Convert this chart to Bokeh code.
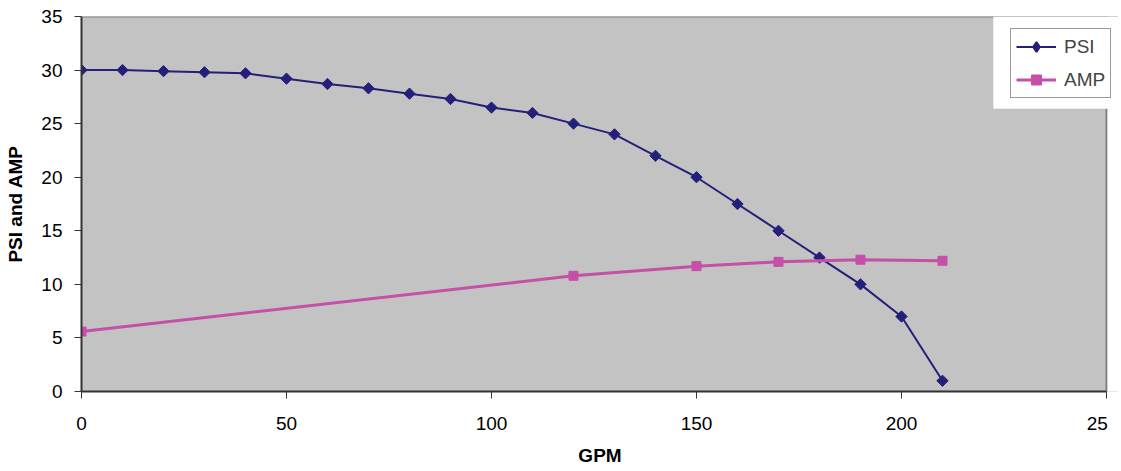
import math
from bokeh.plotting import figure
from bokeh.models import Range1d, FixedTicker, Legend, LegendItem, BoxAnnotation, Span
from bokeh.embed import file_html
from bokeh.resources import INLINE

gpm_psi = [0, 10, 20, 30, 40, 50, 60, 70, 80, 90, 100, 110, 120, 130, 140, 150, 160, 170, 180, 190, 200, 210]
psi = [30, 30, 29.9, 29.8, 29.7, 29.2, 28.7, 28.3, 27.8, 27.3, 26.5, 26.0, 25.0, 24.0, 22.0, 20.0, 17.5, 15.0, 12.5, 10.0, 7.0, 1.0]
gpm_amp = [0, 120, 150, 170, 190, 210]
amp = [5.6, 10.8, 11.7, 12.1, 12.3, 12.2]
x_ticks = [0, 50, 100, 150, 200, 250]
x_tick_labels = ["0", "50", "100", "150", "200", "25\u2007"]
y_ticks = [0, 5, 10, 15, 20, 25, 30, 35]

FONT = "Liberation Sans"
NAVY = "#24207a"
PINK = "#c64fa8"
BG = "#c3c3c3"

X_MAX = 250
p = figure(width=1118, height=470, output_backend="svg", toolbar_location=None,
           x_range=Range1d(0, 252.93), y_range=Range1d(0, 35),
           min_border_left=81, min_border_right=0, min_border_top=16, min_border_bottom=79)
p.background_fill_color = BG
p.border_fill_color = "white"
p.outline_line_color = None
p.grid.visible = False

# plot-area borders (top and right), grey
p.add_layout(Span(location=35, dimension="width", line_color="#808080", line_width=2))
p.segment(x0=[X_MAX], y0=[0], x1=[X_MAX], y1=[35], line_color="#808080", line_width=2)

r_psi_l = p.line(gpm_psi, psi, line_color=NAVY, line_width=2)
r_psi_m = p.scatter(gpm_psi, psi, marker="square", angle=math.pi / 4, size=8,
                    fill_color=NAVY, line_color=NAVY)
r_amp_l = p.line(gpm_amp, amp, line_color=PINK, line_width=3)
r_amp_m = p.scatter(gpm_amp, amp, marker="square", size=9, fill_color=PINK, line_color=PINK)

# legend-only diamond symbol (legend glyphs ignore marker angle); hidden on the plot
r_psi_leg = p.scatter(gpm_psi, psi, marker="diamond", fill_color=NAVY, line_color=NAVY,
                      line_width=2, visible=False)

# white area behind the legend, and the blank strip right of the plot area
p.add_layout(BoxAnnotation(left=222.4, bottom=26.4, fill_color="white", fill_alpha=1.0, line_color=None))
p.add_layout(BoxAnnotation(left=X_MAX + 0.25, fill_color="white", fill_alpha=1.0, line_color=None))

for ax in (p.xaxis[0], p.yaxis[0]):
    ax.axis_line_color = "#333333"
    ax.axis_line_width = 2
    ax.major_tick_line_color = "#333333"
    ax.major_tick_out = 7
    ax.major_tick_in = 0
    ax.minor_tick_out = 0
    ax.minor_tick_in = 0
    ax.major_label_text_font = FONT
    ax.major_label_text_font_size = "19px"
    ax.major_label_text_color = "black"
    ax.axis_label_text_font = FONT
    ax.axis_label_text_font_size = "19px"
    ax.axis_label_text_font_style = "bold"
    ax.axis_label_text_color = "black"

p.xaxis.bounds = (0, X_MAX)
p.xaxis.ticker = FixedTicker(ticks=x_ticks)
p.xaxis.major_label_overrides = {t: l for t, l in zip(x_ticks, x_tick_labels)}
p.xaxis.axis_label = "GPM"
p.xaxis.major_label_standoff = 14
p.xaxis.axis_label_standoff = 8
p.yaxis.ticker = FixedTicker(ticks=y_ticks)
p.yaxis.axis_label = "PSI and AMP"
p.yaxis.major_label_standoff = 12
p.yaxis.axis_label_standoff = 12

legend = Legend(items=[LegendItem(label="PSI", renderers=[r_psi_l, r_psi_leg]),
                       LegendItem(label="AMP", renderers=[r_amp_l, r_amp_m])],
                location=(929, 293), orientation="vertical",
                label_text_font=FONT, label_text_font_size="19px",
                glyph_width=40, glyph_height=25, label_height=25, spacing=8,
                label_standoff=8, padding=5, margin=0,
                border_line_color="#333333", border_line_width=1,
                background_fill_color="white", background_fill_alpha=1.0)
p.add_layout(legend, "center")

open("out.html", "w").write(file_html(p, INLINE))
